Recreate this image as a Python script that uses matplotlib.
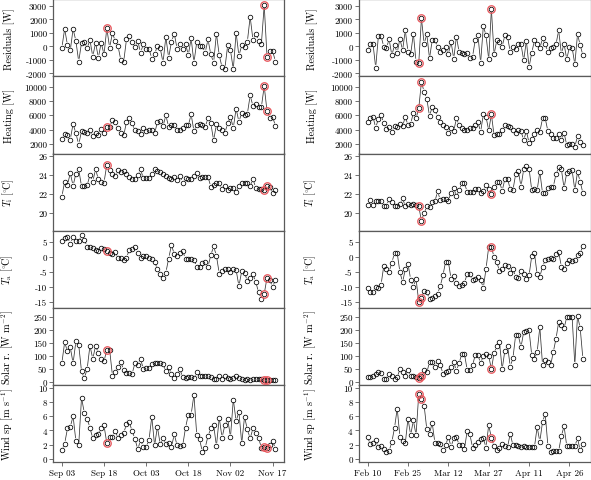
import numpy as np
import matplotlib.pyplot as plt
import matplotlib.dates as mdates
from matplotlib.collections import LineCollection

plt.rcParams['font.family'] = 'serif'
plt.rcParams['font.serif'] = ['cmr10']
plt.rcParams['mathtext.fontset'] = 'cm'
plt.rcParams['axes.unicode_minus'] = False

# --- data (daily values) ---
left_start = '2009-09-03'
right_start = '2010-02-10'

left_res = [-100, 1300, 100, -300, 1300, 400, -1130, 280, 330, -140, 480, -760, 280, -840, 280, -600,
            1350, -100, 1000, 400, 0, -1030, -1130, 520, 770, 350, -50, 420, -460, 150, -170, -170,
            -900, -540, 0, -140, -1200, 700, -840, 350, 950, -170, 150, -170, 200, -640, 600, -1200,
            330, 0, 0, -460, 520, -600, -1200, 950, -660, -1550, -1650, 80, -300, -1700, 1020, -700,
            80, -50, 350, 2200, 480, 950, 420, 200, 3070, -760, -340, -340, -1130]
left_heat = [2700, 3400, 3260, 2600, 4800, 3450, 1900, 3780, 3680, 3450, 3870, 3080, 3500, 3260, 4100, 3450,
             4340, 4390, 5280, 5040, 4250, 3540, 3170, 5040, 5560, 4850, 3870, 3780, 3400, 4250, 3780, 3870,
             3870, 3450, 5040, 5180, 4480, 5980, 4390, 4570, 4570, 4000, 3870, 4150, 4570, 4570, 6120, 3780,
             4670, 4710, 4620, 4390, 5560, 4850, 2500, 4710, 4150, 4000, 3540, 4850, 5790, 4250, 6910, 5090,
             6350, 6020, 6210, 8780, 7290, 7610, 7150, 7190, 10090, 6580, 5650, 5790, 4480]
left_ti = [21.7, 23.3, 22.95, 24.2, 22.85, 24.15, 24.6, 22.8, 22.8, 22.9, 24.0, 23.3, 24.6, 23.55, 23.3, 23.2,
           25.1, 24.5, 24.1, 23.9, 24.5, 24.35, 24.4, 24.1, 23.8, 23.55, 23.55, 24.0, 24.6, 23.65, 23.65, 23.7,
           24.1, 24.6, 24.4, 24.35, 24.1, 23.85, 23.7, 23.55, 23.8, 23.45, 23.85, 23.2, 23.7, 23.55, 23.55, 23.9,
           24.25, 23.65, 23.8, 23.8, 23.8, 22.75, 22.95, 23.1, 23.1, 22.5, 22.8, 22.4, 22.6, 22.65, 22.15, 22.85,
           23.1, 23.1, 23.2, 22.8, 23.55, 22.65, 22.5, 22.5, 22.4, 22.85, 22.75, 22.05, 22.4]
left_ta = [5.1, 6.1, 6.5, 4.4, 6.5, 5.1, 5.1, 7.2, 5.6, 3.4, 3.4, 2.75, 2.3, 2.0, 2.75, 2.5,
           2.0, 1.2, 0.8, 1.7, -0.5, -0.3, -1.2, -0.3, 2.3, 2.5, 3.4, 1.4, -0.3, 0.1, 0.3, -0.3,
           -0.8, -1.6, -4.2, -5.6, -7.0, -5.3, -0.6, 3.9, 0.85, 0.3, 1.4, 1.75, -0.6, -0.6, -0.6, -1.1,
           -3.3, -3.3, -2.0, -1.6, -3.3, 0.5, 3.45, 0.3, -5.6, -4.8, -4.0, -4.0, -5.1, -4.2, -4.4, -9.8,
           -4.8, -5.3, -8.1, -7.2, -5.9, -8.4, -11.9, -14.0, -12.4, -7.0, -7.9, -10.1, -7.6]
left_solar = [72, 153, 117, 133, 72, 156, 143, 40, 14, 49, 140, 88, 139, 111, 89, 79,
              124, 124, 24, 37, 57, 76, 46, 34, 34, 31, 72, 66, 88, 50, 53, 53,
              70, 72, 72, 72, 68, 40, 59, 30, 14, 31, 49, 17, 14, 18, 18, 14,
              36, 24, 21, 21, 24, 17, 12, 10, 21, 12, 21, 14, 12, 14, 21, 14,
              12, 8, 12, 5, 12, 12, 12, 12, 8, 5, 8, 8, 5]
left_wind = [1.26, 2.14, 4.28, 4.5, 6.0, 2.5, 1.95, 8.56, 6.47, 5.67, 4.37, 2.88, 3.35, 3.44, 4.28, 4.7,
             2.19, 3.1, 3.1, 3.95, 2.88, 3.3, 3.67, 4.84, 5.16, 3.9, 2.84, 1.35, 2.6, 1.72, 1.67, 2.65,
             5.9, 1.9, 4.5, 2.05, 2.88, 2.05, 2.28, 1.72, 3.44, 1.9, 1.81, 1.9, 4.37, 6.23, 6.23, 9.0,
             3.35, 2.74, 1.0, 1.58, 3.2, 4.28, 4.74, 1.81, 5.77, 2.98, 4.74, 5.63, 3.07, 8.33, 5.3, 6.6,
             2.19, 5.9, 4.14, 2.88, 4.28, 3.58, 2.88, 1.58, 1.72, 1.58, 1.9, 2.5, 1.44]

right_res = [-290, 200, 200, -1580, 770, 770, -20, -90, 520, -660, 100, -470, 570, -290, 1190, -390,
             -590, 950, -1130, -1260, 2080, 200, 900, -890, 450, 450, -40, -390, -290, -40, -590, 350,
             -910, 720, -420, -510, -590, -470, -840, -760, 480, 820, -1210, 1510, 820, -960, 2750, -590,
             450, 350, -20, 820, 700, -390, -40, -170, 150, 150, -1030, 400, -1530, -470, 450, 150,
             -140, 600, 150, -390, -90, -40, 150, 1190, -540, 200, -960, -40, -90, -1330, 900, 100, -660]
right_heat = [5090, 5560, 5790, 4250, 5510, 5980, 4950, 4100, 4390, 3680, 4480, 4390, 4810, 4480, 5790, 4620,
              4810, 6350, 5560, 6960, 10650, 9300, 8320, 5880, 7190, 6680, 5790, 5090, 4570, 4340, 3540, 4150,
              3780, 5560, 4620, 4150, 4000, 3920, 4150, 4250, 4570, 5040, 3680, 6120, 5790, 3870, 6120, 3170,
              3310, 3400, 4000, 4620, 4480, 4340, 4000, 3540, 3920, 3780, 2520, 3780, 2140, 2610, 3310, 4000,
              3680, 5560, 5560, 3780, 3310, 2840, 2840, 3310, 2520, 3540, 1810, 2000, 2000, 1580, 3080, 2280, 1810]
right_ti = [20.84, 21.33, 20.84, 21.2, 21.2, 21.2, 20.74, 20.74, 21.44, 21.09, 20.67, 20.67, 20.91, 21.54, 20.67, 20.91,
            20.84, 20.91, 20.84, 20.67, 19.16, 19.93, 20.67, 20.56, 21.09, 21.2, 22.25, 21.37, 21.44, 21.44, 21.26, 22.14,
            22.67, 21.72, 22.39, 23.12, 23.12, 22.21, 22.21, 22.21, 22.56, 22.49, 22.14, 22.32, 22.95, 22.56, 22.03, 22.77,
            23.3, 23.3, 22.32, 23.54, 23.61, 22.49, 22.39, 24.07, 24.42, 22.77, 24.6, 24.95, 24.67, 22.39, 22.49, 22.39,
            24.35, 22.07, 22.07, 22.67, 22.77, 22.77, 24.07, 24.84, 24.6, 22.6, 24.25, 24.42, 24.49, 22.39, 24.32, 23.3, 22.07]
right_ta = [-10.4, -11.85, -11.85, -10.2, -10.4, -9.3, -3.1, -4.0, -5.0, -1.95, 1.2, 1.2, -5.1, -8.5, -4.2, -2.3,
            -7.6, -10.0, -7.4, -15.0, -13.8, -11.3, -11.9, -14.1, -13.8, -13.2, -12.3, -9.8, -6.2, -1.6, -1.6, -7.3,
            -6.5, -8.7, -9.6, -9.3, -8.7, -5.7, -5.9, -7.8, -7.3, -6.6, -7.7, -10.4, -4.0, 3.3, 3.1, -0.06,
            -1.74, -4.8, -4.2, -2.9, -3.1, -5.3, -4.0, -6.7, -7.0, -4.8, -5.9, -7.4, -6.2, 0.28, 1.18, -5.9,
            -6.7, -3.3, -1.2, -0.6, -0.5, -0.6, 0.84, 1.63, -3.3, -4.2, -2.0, -1.2, -1.4, -1.2, 0.6, 1.18, 3.65]
right_solar = [18, 18, 23, 31, 37, 34, 12, 12, 30, 23, 12, 17, 49, 37, 21, 46,
               21, 21, 17, 14, 24, 46, 36, 76, 76, 59, 82, 66, 31, 37, 43, 57,
               76, 43, 72, 108, 107, 46, 46, 63, 104, 102, 72, 100, 108, 100, 49, 111,
               137, 153, 49, 120, 139, 59, 91, 179, 179, 134, 192, 195, 198, 102, 88, 115,
               211, 66, 85, 76, 63, 115, 166, 231, 220, 207, 249, 250, 250, 66, 255, 207, 89]
right_wind = [3.07, 2.05, 2.19, 2.6, 1.67, 1.81, 1.35, 0.98, 1.12, 2.37, 4.37, 7.07, 3.12, 2.5, 2.19, 5.67,
              3.35, 5.4, 3.35, 9.1, 8.46, 7.49, 4.14, 3.53, 5.07, 2.28, 2.19, 2.14, 1.26, 1.9, 3.12, 1.72,
              2.88, 3.12, 1.95, 1.95, 1.44, 3.9, 3.44, 1.58, 1.9, 2.37, 2.84, 2.9, 1.59, 4.74, 2.98, 1.81,
              1.21, 1.59, 2.14, 1.81, 1.67, 3.54, 1.91, 1.98, 1.81, 1.72, 1.81, 1.72, 1.67, 1.67, 1.67, 4.46,
              2.43, 5.2, 6.33, 1.81, 1.0, 1.12, 1.12, 1.12, 3.2, 4.6, 1.81, 1.81, 1.81, 1.81, 2.89, 1.2, 2.05]

left_mark = [16, 72, 73]
right_mark = [19, 20, 46]

left_ticks = ['2009-09-03', '2009-09-18', '2009-10-03', '2009-10-18', '2009-11-02', '2009-11-17']
right_ticks = ['2010-02-10', '2010-02-25', '2010-03-12', '2010-03-27', '2010-04-11', '2010-04-26']

ylabels = ['Residuals [W]', 'Heating [W]', r'$T_\mathrm{i}\ [^{\circ}\!\mathrm{C}]$',
           r'$T_\mathrm{a}\ [^{\circ}\!\mathrm{C}]$',
           r'Solar r. [W m$^{-2}$]', r'Wind sp [m s$^{-1}$]']
ylims = [(-2230, 3500), (640, 11450), (18.1, 26.28), (-17.0, 8.7), (-11.6, 286), (-0.42, 10.4)]
yticks = [np.arange(-2000, 3001, 1000), np.arange(2000, 10001, 2000), [20, 22, 24, 26],
          np.arange(-15, 6, 5), np.arange(0, 251, 50), np.arange(0, 11, 2)]

left_data = [left_res, left_heat, left_ti, left_ta, left_solar, left_wind]
right_data = [right_res, right_heat, right_ti, right_ta, right_solar, right_wind]

FRAME = '#5a5a5a'
LINE = '#333333'
RED = '#e8545a'


def type_b(ax, x, y, gap=2.9):
    # R style type="b": segments between points, with a gap round each point
    pts = ax.transData.transform(np.column_stack([x, y]))
    inv = ax.transData.inverted()
    segs = []
    for p, q in zip(pts[:-1], pts[1:]):
        d = q - p
        L = np.hypot(d[0], d[1])
        if L <= 2 * gap:
            continue
        u = d / L
        segs.append(inv.transform([p + u * gap, q - u * gap]))
    ax.add_collection(LineCollection(segs, colors=LINE, linewidths=0.55))


fig = plt.figure(figsize=(5.91, 4.81), dpi=100)
W, H = 591.0, 481.0
row_h = 77.1
# (axes left px, axes right px, ylabel anchor px, start, data, marks, ticks)
cols = [(53.3, 284.0, 15.5, left_start, left_data, left_mark, left_ticks),
        (359.0, 591.5, 318.0, right_start, right_data, right_mark, right_ticks)]

for x0, x1, lab_x, start, data, mark, tks in cols:
    n = len(data[0])
    dates = np.arange(np.datetime64(start), np.datetime64(start) + n)
    x = mdates.date2num(dates)
    pad = 0.04 * (x[-1] - x[0])
    for r in range(6):
        top = 0.3 + r * row_h
        ax = fig.add_axes([x0 / W, 1 - (top + row_h) / H, (x1 - x0) / W, row_h / H])
        y = np.asarray(data[r], dtype=float)
        ax.set_xlim(x[0] - pad, x[-1] + pad)
        ax.set_ylim(*ylims[r])
        ax.set_yticks(yticks[r])
        for s in ax.spines.values():
            s.set_color(FRAME)
            s.set_linewidth(0.9)
        ax.tick_params(axis='both', direction='out', length=3, width=0.6, color=FRAME,
                       labelsize=6.5, pad=1.5)
        if r < 5:
            ax.set_xticks([])
        else:
            ax.set_xticks(mdates.date2num(np.array(tks, dtype='datetime64[D]')))
            ax.xaxis.set_major_formatter(mdates.DateFormatter('%b %d'))
        ax.set_ylabel(ylabels[r], fontsize=7.3)
        ax.yaxis.set_label_coords((lab_x - x0) / (x1 - x0), 0.5)
        type_b(ax, x, y)
        ax.plot(x, y, 'o', ms=3.3, mfc='none', mec='black', mew=0.55, zorder=3)
        ax.plot(x[mark], y[mark], 'o', ms=5.4, mfc='none', mec=RED, mew=0.9, zorder=4)

fig.savefig('out.png', dpi=100)
